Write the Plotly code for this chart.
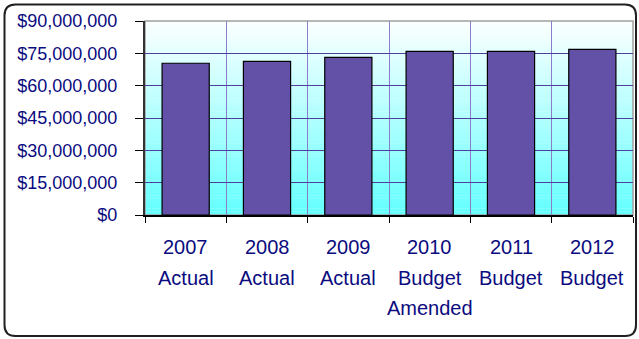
import plotly.graph_objects as go

categories = ["2007<br>Actual", "2008<br>Actual", "2009<br>Actual",
              "2010<br>Budget<br>Amended", "2011<br>Budget", "2012<br>Budget"]
values = [70400000, 71300000, 73100000, 75900000, 75900000, 76800000]
y_ticks = [0, 15000000, 30000000, 45000000, 60000000, 75000000, 90000000]

W, H = 639, 339
L, R, T, B = 145, 633, 21, 215  # plot area pixels
FONT = "Liberation Sans, Arial, sans-serif"
TXT = "#0b0b80"

fig = go.Figure()
fig.add_trace(go.Bar(
    x=categories, y=values,
    marker=dict(color="#6351a8", line=dict(color="#000000", width=1.2)),
    hoverinfo="skip",
))

shapes = []
# gradient background bands
n = 60
top = (252, 255, 255)
bot = (100, 255, 255)
for i in range(n):
    f0 = i / n
    f1 = (i + 1) / n
    t = (f0 + f1) / 2
    c = tuple(round(bot[k] + (top[k] - bot[k]) * t) for k in range(3))
    shapes.append(dict(type="rect", xref="x domain", yref="y domain",
                       x0=0, x1=1, y0=f0, y1=f1 + 0.002, layer="below",
                       line=dict(width=0), fillcolor="rgb(%d,%d,%d)" % c))
# gray border top/right
shapes.append(dict(type="rect", xref="x domain", yref="y domain", x0=0, x1=1, y0=0, y1=1,
                   layer="below", line=dict(color="#a0a0a0", width=1.5)))

# outer rounded frame
def px(x):
    return (x - L) / (R - L)

def py(y):
    return (B - y) / (B - T)

x0, x1, y0, y1, r = 4.5, 636, 4.5, 336, 11
path = (f"M {px(x0 + r)},{py(y0)} L {px(x1 - r)},{py(y0)} "
        f"Q {px(x1)},{py(y0)} {px(x1)},{py(y0 + r)} "
        f"L {px(x1)},{py(y1 - r)} Q {px(x1)},{py(y1)} {px(x1 - r)},{py(y1)} "
        f"L {px(x0 + r)},{py(y1)} Q {px(x0)},{py(y1)} {px(x0)},{py(y1 - r)} "
        f"L {px(x0)},{py(y0 + r)} Q {px(x0)},{py(y0)} {px(x0 + r)},{py(y0)} Z")
shapes.append(dict(type="path", xref="paper", yref="paper", path=path,
                   line=dict(color="#202020", width=2), layer="above"))

annotations = []
for cat in categories:
    for j, line in enumerate(cat.split("<br>")):
        annotations.append(dict(x=cat, y=0, xref="x", yref="y", text=line,
                                showarrow=False, yanchor="middle", xanchor="center",
                                yshift=-(32 + 30.5 * j),
                                font=dict(family=FONT, size=20, color=TXT)))

fig.update_layout(
    width=W, height=H,
    margin=dict(l=L, r=W - R, t=T, b=H - B, pad=0),
    paper_bgcolor="#ffffff", plot_bgcolor="#ffffff",
    bargap=0.42, showlegend=False,
    shapes=shapes, annotations=annotations,
    font=dict(family=FONT, color=TXT),
)
fig.update_xaxes(
    type="category", tickson="boundaries", showgrid=True, gridcolor="#8c7ccc", gridwidth=1,
    ticks="outside", ticklen=6, tickcolor="#000000", tickwidth=1,
    showticklabels=False, showline=True, linecolor="#000000", linewidth=1.5,
)
fig.update_yaxes(
    range=[0, 90000000], tickvals=y_ticks, tickformat="$,.0f",
    showgrid=True, gridcolor="#4e3f9c", gridwidth=1, zeroline=False,
    ticks="outside", ticklen=8, tickcolor="#000000", tickwidth=1,
    showline=True, linecolor="#333333", linewidth=2,
    ticklabelstandoff=14,
    tickfont=dict(family=FONT, size=18, color=TXT),
)

fig.write_html("out.html")
